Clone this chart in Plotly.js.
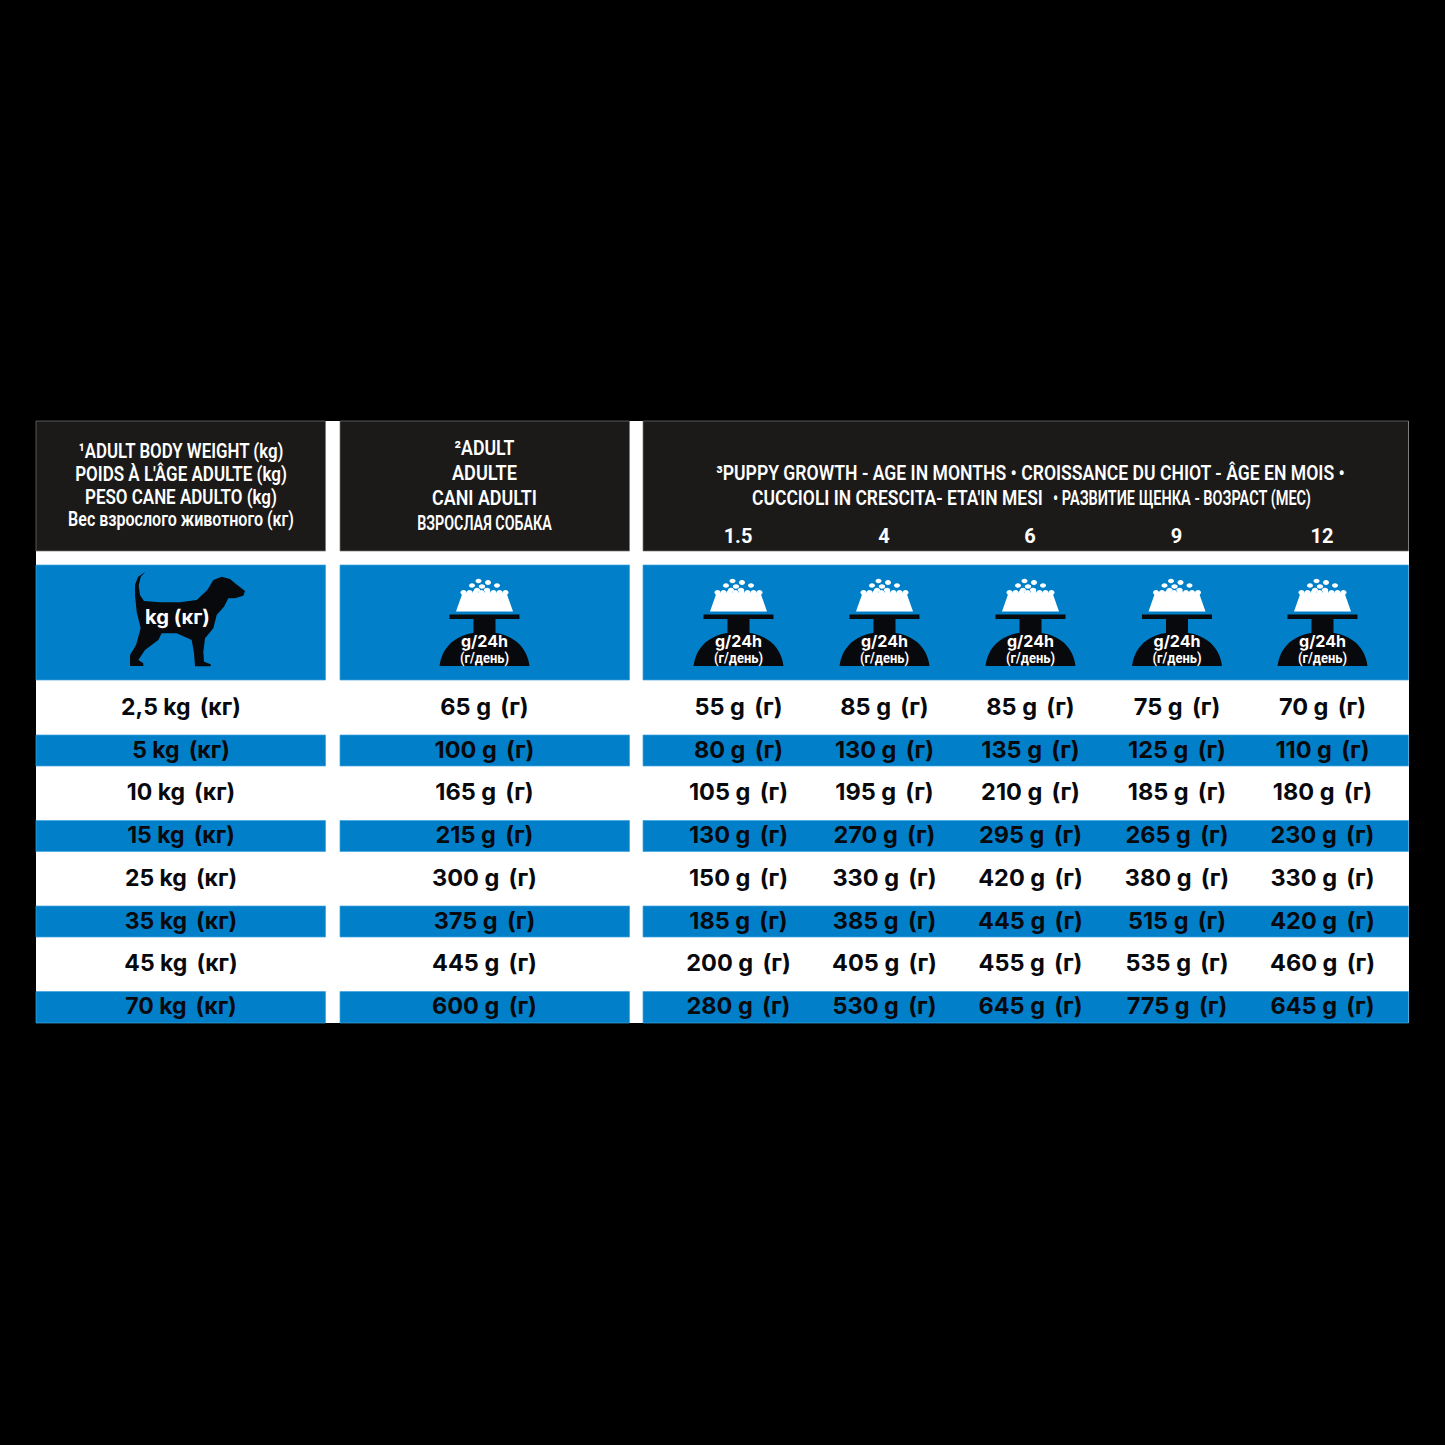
<!DOCTYPE html>
<html><head><meta charset="utf-8">
<script src="https://cdn.plot.ly/plotly-3.0.1.min.js"></script>
<style>html,body{margin:0;padding:0;background:#000}#c{width:1445px;height:1445px}</style>
</head><body><div id="c"></div>
<script>
const bodyWeights = ["2,5 kg\u2009 (кг)","5 kg\u2009 (кг)","10 kg\u2009 (кг)","15 kg\u2009 (кг)","25 kg\u2009 (кг)","35 kg\u2009 (кг)","45 kg\u2009 (кг)","70 kg\u2009 (кг)"];
const adultGrams = [65,100,165,215,300,375,445,600];
const puppy1_5 = [55,80,105,130,150,185,200,280];
const puppy4 = [85,130,195,270,330,385,405,530];
const puppy6 = [85,135,210,295,420,445,455,645];
const puppy9 = [75,125,185,265,380,515,535,775];
const puppy12 = [70,110,180,230,330,420,460,645];
const monthLabels = ["1.5","4","6","9","12"];
const weightHeader = ["¹ADULT BODY WEIGHT (kg)","POIDS À L'ÂGE ADULTE (kg)","PESO CANE ADULTO (kg)","Вес взрослого животного (кг)"];
const adultHeader = ["²ADULT","ADULTE","CANI ADULTI","ВЗРОСЛАЯ СОБАКА"];
const puppyHeader = ["³PUPPY GROWTH - AGE IN MONTHS • CROISSANCE DU CHIOT - ÂGE EN MOIS •","CUCCIOLI IN CRESCITA- ETA'IN MESI","• РАЗВИТИЕ ЩЕНКА - ВОЗРАСТ (МЕС)"];

const BLUE="#0180c9", DARK="#1b1a18", INK="#08090d";
const cols=[[36,325.5],[340,629.5],[643,1408.5]];
const rowEdges=[680.5,735,766,820.5,851.5,906,937,991.5,1023];
const rowY=[709,752,794.5,837.5,880,923,965.5,1008.5];
const xW=181, xA=484.5, xP=[738.5,884.5,1030.5,1177,1322.5];
const puppy=[puppy1_5,puppy4,puppy6,puppy9,puppy12];

const shapes=[];
const rect=(x0,x1,y0,y1,c,lc)=>shapes.push({type:"rect",xref:"x",yref:"y",x0,x1,y0,y1,fillcolor:c,line:lc?{width:0.7,color:lc}:{width:0},layer:"below"});
const path=(d,c)=>shapes.push({type:"path",xref:"x",yref:"y",path:d,fillcolor:c,line:{width:0},layer:"below"});
const ell=(cx,cy,rx,ry,c)=>{const k=0.55;path(`M${cx-rx},${cy} C${cx-rx},${cy-k*ry} ${cx-k*rx},${cy-ry} ${cx},${cy-ry} C${cx+k*rx},${cy-ry} ${cx+rx},${cy-k*ry} ${cx+rx},${cy} C${cx+rx},${cy+k*ry} ${cx+k*rx},${cy+ry} ${cx},${cy+ry} C${cx-k*rx},${cy+ry} ${cx-rx},${cy+k*ry} ${cx-rx},${cy} Z`,c);};

rect(36,1409,421,1023,"#ffffff");
cols.forEach(([a,b])=>{
  rect(a,b,421,551,DARK,"#77767a");
  rect(a,b,565,680,BLUE,"#3fa4dd");
  for(let i=1;i<8;i+=2) rect(a,b,rowEdges[i],rowEdges[i+1],BLUE,"#3fa4dd");
});

function bowl(cx){
  path(`M${cx-22},593 L${cx+22},593 L${cx+28.5},611.5 L${cx-28.5},611.5 Z`,"#fff");
  [-21,-15,-9,-3,3,9,15,21].forEach(d=>ell(cx+d,592.5,3,2.6,"#fff"));
  [[-6,581,3,2.2],[-12.5,585.5,3,2.3],[-2.5,586.5,3.2,2.2],[3.5,582.5,3,2.4],[12.5,585.5,3,2.2],[-7.5,590,3,2.2],[2.5,590,3.2,2.2]].forEach(k=>ell(cx+k[0],k[1],k[2],k[3],"#fff"));
  rect(cx-35,cx+35,614.5,619,INK);
  rect(cx-11,cx+11,619,634,INK);
  path(`M${cx-45},666 C${cx-42},643 ${cx-24},632 ${cx},632 C${cx+24},632 ${cx+42},643 ${cx+45},666 Z`,INK);
}
[xA,...xP].forEach(bowl);

const dogOutline=[[76,20],[62,36],[56,62],[60,90],[72,108],[120,112],[180,112],[230,105],[262,75],[280,45],[305,35],[330,42],[345,55],[375,78],[370,92],[345,100],[325,100],[312,125],[290,150],[280,190],[255,220],[250,260],[252,290],[272,298],[272,304],[225,304],[222,265],[215,225],[170,205],[125,205],[115,225],[75,255],[55,285],[70,295],[70,303],[30,303],[30,270],[48,240],[62,190],[50,140],[45,90],[45,60],[54,36]];
path("M"+dogOutline.map(p=>`${120+p[0]/3},${565+p[1]/3}`).join(" L")+" Z",INK);

const cell=v=>`${v} g\u2009 (г)`;
const cellFont={family:"Inter",size:23.5,color:INK,weight:700};
const weightFont={family:"Inter",size:23,color:INK,weight:700};
const hFont={family:"Roboto",size:20,color:"#ffffff",weight:600};
const traces=[], fit=[];
const addText=(x,y,text,font,widths)=>{traces.push({type:"scatter",mode:"text",x,y,text,textposition:"middle center",textfont:font,hoverinfo:"skip",showlegend:false,cliponaxis:false});fit.push(widths||null);};

addText(rowY.map(()=>xW),rowY,bodyWeights,weightFont);
addText(rowY.map(()=>xA),rowY,adultGrams.map(cell),cellFont);
puppy.forEach((s,i)=>addText(rowY.map(()=>xP[i]),rowY,s.map(cell),cellFont));

addText(weightHeader.map(()=>181),[453.5,476.5,499,521],weightHeader,hFont,[205,212,192,226]);
addText(adultHeader.map(()=>484.5),[450,475,500,525.5],adultHeader,hFont,[60,65,105,135]);
addText([1030.5,897.5,1182],[475,500,500],puppyHeader,hFont,[629,291,258]);
addText(xP.map(x=>x-0.5),monthLabels.map(()=>538),monthLabels,{family:"Roboto",size:20,color:"#fff",weight:700});

addText([177.5],[619.5],["kg (кг)"],{family:"Inter",size:20,color:"#fff",weight:700},[65]);
const ix=[xA,...xP];
addText(ix,ix.map(()=>643.5),ix.map(()=>"g/24h"),{family:"Inter",size:16,color:"#fff",weight:700},ix.map(()=>47));
addText(ix,ix.map(()=>660),ix.map(()=>"(г/день)"),{family:"Roboto",size:14,color:"#fff",weight:700},ix.map(()=>49));

Plotly.newPlot("c",traces,{
  width:1445,height:1445,margin:{l:0,r:0,t:0,b:0},
  paper_bgcolor:"#000",plot_bgcolor:"#000",showlegend:false,shapes,
  xaxis:{range:[0,1445],visible:false,fixedrange:true},
  yaxis:{range:[1445,0],visible:false,fixedrange:true}
},{displayModeBar:false,staticPlot:true}).then(gd=>{
  // The reference's headers use a condensed face: squeeze each line horizontally to its measured width.
  const groups=gd.querySelectorAll(".scatterlayer .trace");
  groups.forEach((g,i)=>{
    if(!fit[i]) return;
    g.querySelectorAll(".textpoint text").forEach((t,j)=>{
      const w=t.getBBox().width, cx=parseFloat(t.getAttribute("x")), s=fit[i][j]/w;
      t.setAttribute("transform",`translate(${cx},0) scale(${s},1) translate(${-cx},0)`);
    });
  });
});
</script></body></html>
